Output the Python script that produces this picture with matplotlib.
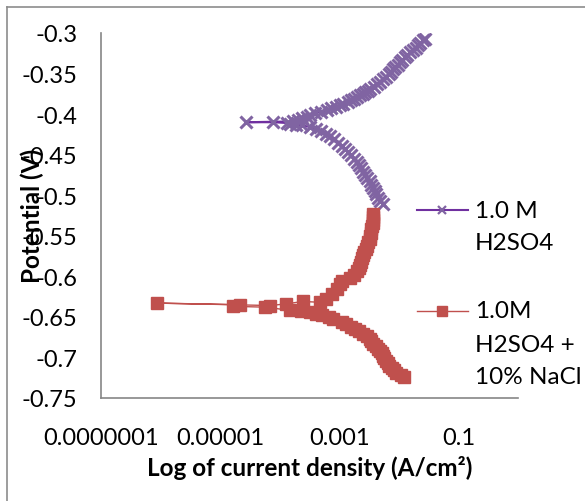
import matplotlib.pyplot as plt
from matplotlib.lines import Line2D
import numpy as np

plt.rcParams['font.family'] = ['Lato', 'DejaVu Sans']

W, H = 585, 502

# 1.0 M H2SO4 : potential (V) and log10 current density
e_acid = [-0.511, -0.507, -0.503, -0.499, -0.495, -0.491, -0.487, -0.483, -0.479, -0.475,
          -0.471, -0.467, -0.463, -0.459, -0.455, -0.451, -0.447, -0.443, -0.439, -0.435,
          -0.431, -0.427, -0.424, -0.421, -0.418, -0.416, -0.414, -0.413, -0.412, -0.411,
          -0.410, -0.410,
          -0.409, -0.407, -0.405, -0.403, -0.401, -0.399, -0.397, -0.395, -0.393, -0.391,
          -0.389, -0.387, -0.385, -0.383, -0.381, -0.379, -0.377, -0.375, -0.373, -0.371,
          -0.369, -0.366, -0.363, -0.360, -0.357, -0.354, -0.351, -0.348, -0.345, -0.342,
          -0.339, -0.336, -0.333, -0.330, -0.327, -0.324, -0.321, -0.318, -0.315, -0.312,
          -0.309, -0.307]
logi_acid = [-2.26, -2.32, -2.35, -2.38, -2.40, -2.43, -2.46, -2.49, -2.53, -2.57,
             -2.61, -2.64, -2.67, -2.70, -2.75, -2.80, -2.85, -2.90, -2.96, -3.02,
             -3.09, -3.16, -3.22, -3.30, -3.39, -3.49, -3.62, -3.72, -3.82, -3.87,
             -4.11, -4.56,
             -3.77, -3.70, -3.62, -3.55, -3.49, -3.40, -3.30, -3.20, -3.14, -3.06,
             -2.99, -2.93, -2.86, -2.80, -2.75, -2.70, -2.65, -2.60, -2.56, -2.52,
             -2.48, -2.42, -2.37, -2.32, -2.27, -2.21, -2.17, -2.13, -2.09, -2.06,
             -2.02, -1.98, -1.94, -1.90, -1.86, -1.82, -1.76, -1.72, -1.68, -1.64,
             -1.60, -1.56]

# 1.0M H2SO4 + 10% NaCl
e_nacl = [-0.724, -0.722, -0.719, -0.716, -0.713, -0.710, -0.707, -0.704, -0.701, -0.698,
          -0.695, -0.692, -0.689, -0.686, -0.683, -0.680, -0.677, -0.674, -0.671, -0.668,
          -0.665, -0.662, -0.659, -0.656, -0.653, -0.650, -0.648, -0.646, -0.644, -0.643,
          -0.642, -0.638, -0.637, -0.635, -0.633,
          -0.636, -0.634, -0.631, -0.632, -0.628, -0.622, -0.616, -0.610, -0.606, -0.602,
          -0.598, -0.594, -0.590, -0.586, -0.582, -0.578, -0.574, -0.570, -0.566, -0.562,
          -0.558, -0.554, -0.550, -0.546, -0.542, -0.538, -0.534, -0.530, -0.527, -0.523]
logi_nacl = [-1.92, -1.97, -2.04, -2.08, -2.12, -2.16, -2.19, -2.22, -2.25, -2.27,
             -2.29, -2.31, -2.35, -2.39, -2.43, -2.46, -2.49, -2.53, -2.60, -2.67,
             -2.74, -2.81, -2.88, -2.96, -3.10, -3.18, -3.29, -3.39, -3.49, -3.65,
             -3.82, -4.24, -4.78, -4.66, -6.06,
             -4.16, -3.90, -3.61, -3.32, -3.22, -3.12, -3.04, -2.99, -2.95, -2.82,
             -2.76, -2.70, -2.67, -2.65, -2.63, -2.62, -2.60, -2.58, -2.55, -2.53,
             -2.51, -2.49, -2.48, -2.47, -2.46, -2.45, -2.44, -2.44, -2.43, -2.43]

x_ticks = [1e-7, 1e-5, 1e-3, 1e-1]
x_labels = ['0.0000001', '0.00001', '0.001', '0.1']
y_ticks = [-0.75, -0.7, -0.65, -0.6, -0.55, -0.5, -0.45, -0.4, -0.35, -0.3]

purple_line = '#7030A0'
purple_mark = '#8064A2'
red = '#C0504D'
fs_tick = 17
fs_text = 17.5

fig = plt.figure(figsize=(W / 100, H / 100), dpi=100)
ax = fig.add_axes([101 / W, 1 - 399 / H, 417 / W, 365 / H])

ax.plot(10 ** np.array(logi_acid), e_acid, color=purple_line, lw=1.5,
        marker='x', ms=8, mew=2.2, mec=purple_mark)
ax.plot(10 ** np.array(logi_nacl), e_nacl, color=red, lw=1.0,
        marker='s', ms=8, mec=red, mfc=red)

ax.set_xscale('log')
ax.set_xlim(1e-7, 1)
ax.set_ylim(-0.75, -0.3)
ax.set_xticks(x_ticks)
ax.set_xticklabels(x_labels)
ax.xaxis.set_minor_locator(plt.NullLocator())
ax.set_yticks(y_ticks)
ax.set_yticklabels(['%g' % v for v in y_ticks])
ax.tick_params(length=0, labelsize=fs_tick)
ax.tick_params(axis='x', pad=21)
ax.tick_params(axis='y', pad=17)

for s in ['top', 'right']:
    ax.spines[s].set_visible(False)
for s in ['left', 'bottom']:
    ax.spines[s].set_color('#868686')
    ax.spines[s].set_linewidth(1.2)

fig.text(310 / W, 1 - 476 / H, 'Log of current density (A/cm²)', ha='center',
         va='baseline', fontsize=fs_text, fontweight='bold')
fig.text(32 / W, 1 - 216 / H, 'Potential (V)', ha='center', va='center',
         rotation=90, fontsize=fs_text, fontweight='bold')

# legend, drawn by hand to the right of the plot area
fig.add_artist(Line2D([417 / W, 468 / W], [1 - 211 / H] * 2, color=purple_line, lw=1.5))
fig.add_artist(Line2D([442 / W], [1 - 211 / H], marker='x', ms=6, mew=1.6,
                      color=purple_mark, ls='none'))
fig.add_artist(Line2D([417 / W, 468 / W], [1 - 312 / H] * 2, color=red, lw=1.0))
fig.add_artist(Line2D([442 / W], [1 - 312 / H], marker='s', ms=6.5,
                      color=red, ls='none'))
for txt, py in [('1.0 M', 211), ('H2SO4', 243),
                ('1.0M', 312), ('H2SO4 +', 346), ('10% NaCl', 378)]:
    fig.text(475 / W, 1 - py / H, txt, ha='left', va='center', fontsize=fs_text)

# chart border
fig.add_artist(Line2D([7 / W, 7 / W], [0, 1 - 8 / H], color='#8c8c8c', lw=1.2))
fig.add_artist(Line2D([7 / W, 1], [1 - 8 / H] * 2, color='#8c8c8c', lw=1.2))

fig.savefig('out.png', dpi=100)
